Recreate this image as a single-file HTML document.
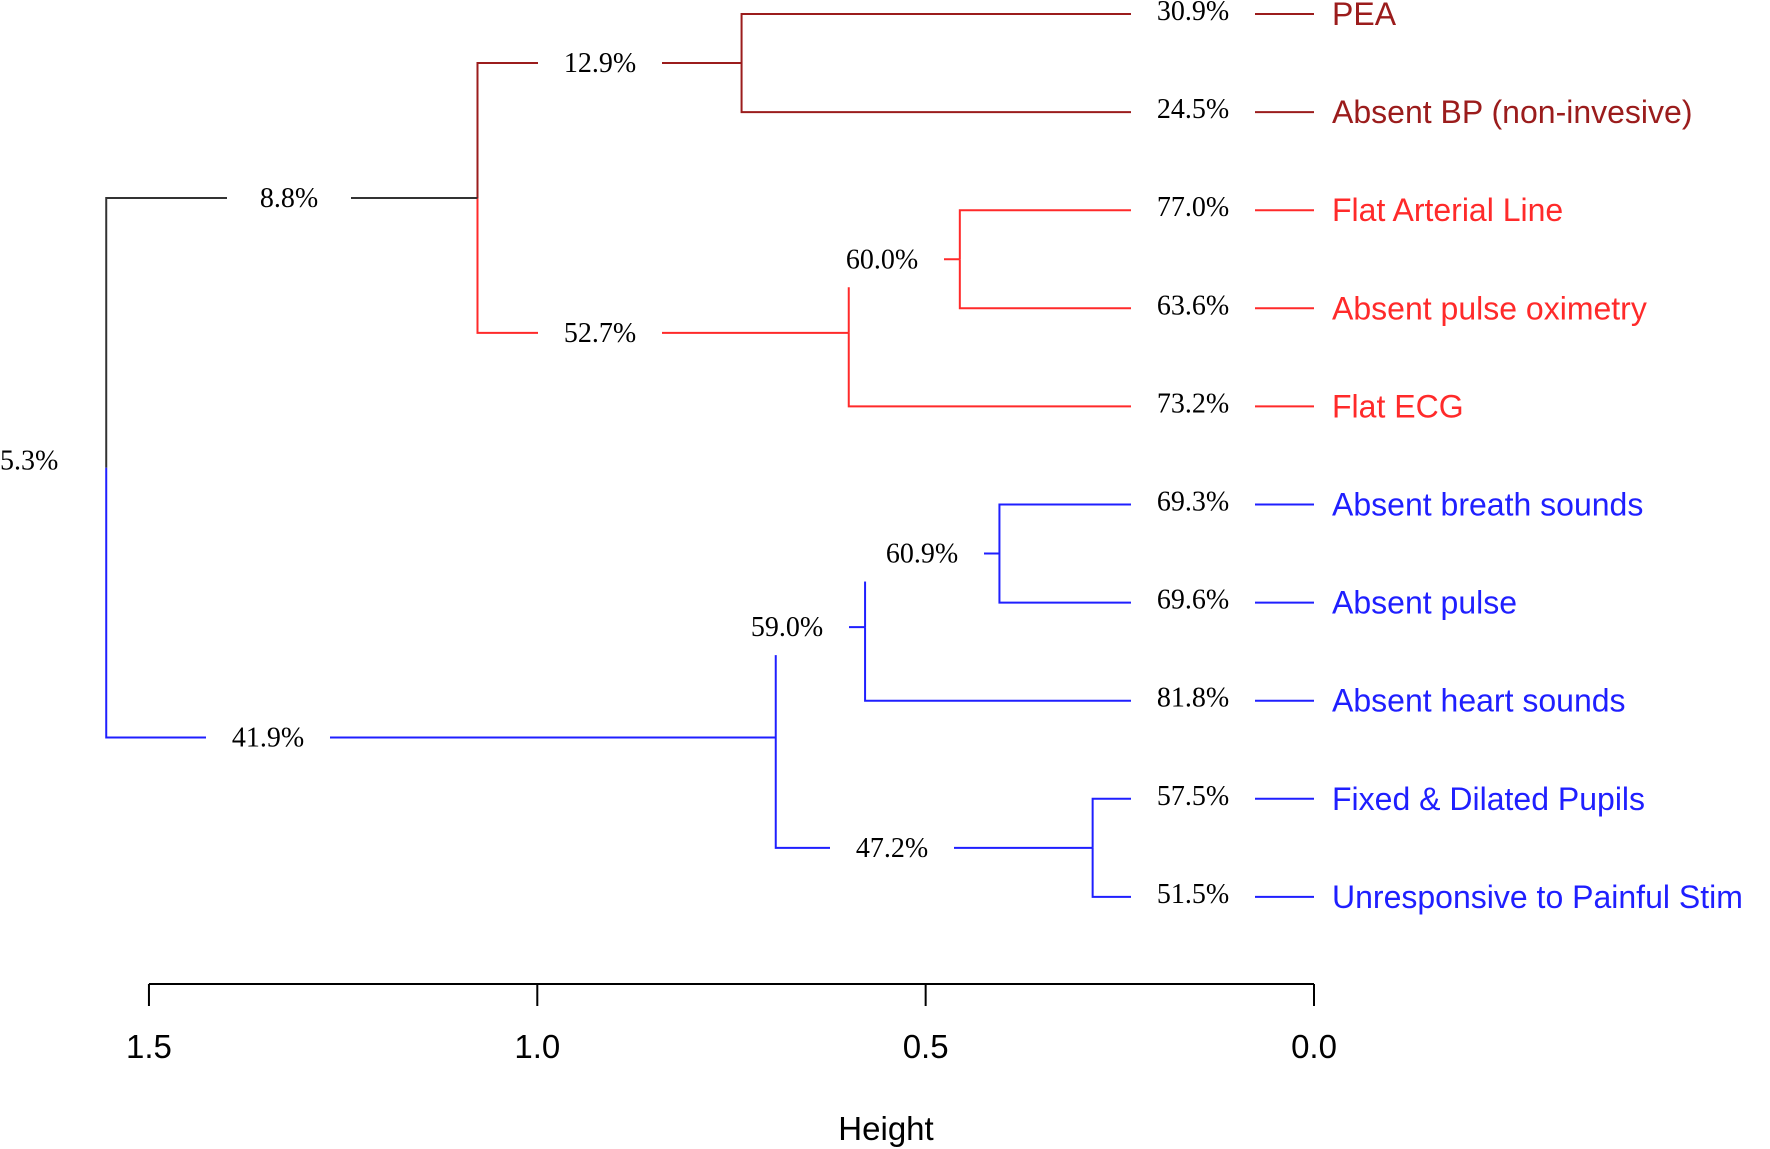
<!DOCTYPE html>
<html><head><meta charset="utf-8"><style>
html,body{margin:0;padding:0;background:#fff;}
svg{display:block;}
</style></head><body>
<svg id="chart" width="1770" height="1149" viewBox="0 0 1770 1149" xmlns="http://www.w3.org/2000/svg"></svg>
<script>
// ---- data ----
const leafNames = ["PEA","Absent BP (non-invesive)","Flat Arterial Line","Absent pulse oximetry","Flat ECG","Absent breath sounds","Absent pulse","Absent heart sounds","Fixed & Dilated Pupils","Unresponsive to Painful Stim"];
const leafPct = ["30.9%","24.5%","77.0%","63.6%","73.2%","69.3%","69.6%","81.8%","57.5%","51.5%"];
const leafColors = ["#9b1c1c","#9b1c1c","#ff2a2a","#ff2a2a","#ff2a2a","#1f1fff","#1f1fff","#1f1fff","#1f1fff","#1f1fff"];
const mergeLeft  = [-1,-3, 2,-6, 4,-9, 1, 5, 7];
const mergeRight = [-2,-4,-5,-7,-8,-10,3, 6, 8];
const mergeHeights = [0.737,0.456,0.599,0.405,0.578,0.285,1.077,0.693,1.555];
const mergePct = ["12.9%","60.0%","52.7%","60.9%","59.0%","47.2%","8.8%","41.9%","5.3%"];
const mergeColors = ["#9b1c1c","#ff2a2a","#ff2a2a","#1f1fff","#1f1fff","#1f1fff","#333333","#1f1fff","#333333"];
const mergeLabelX = [600,882,600,922,787,892,289,268,0];
const axisTicks = [1.5,1.0,0.5,0.0];
const axisTickLabels = ["1.5","1.0","0.5","0.0"];

// ---- scales ----
const x = h => 1314 - h*776.7;
const yLeaf = i => 14 + i*98.1;
const svg = document.getElementById('chart');
const NS = "http://www.w3.org/2000/svg";
function mk(tag, attrs){const e=document.createElementNS(NS,tag);for(const k in attrs)e.setAttribute(k,attrs[k]);return e;}

const nodeY = [];
function yOf(c){return c<0 ? yLeaf(-c-1) : nodeY[c-1];}
function hOf(c){return c<0 ? 0 : mergeHeights[c-1];}
function colOf(c){return c<0 ? leafColors[-c-1] : mergeColors[c-1];}
mergeHeights.forEach((h,i)=>{nodeY[i]=(yOf(mergeLeft[i])+yOf(mergeRight[i]))/2;});

const lines = mk('g',{});


svg.appendChild(lines);
const labels = mk('g',{});


svg.appendChild(labels);

function edgeLabel(txt,cx,cy,anchor){
  const g=mk('g',{});
  
  
  if(anchor==='start'){g.appendChild(mk('rect',{x:0,y:cy-28,width:70,height:56,fill:'#fff'}));}
  else g.appendChild(mk('rect',{x:cx-62,y:cy-28,width:124,height:56,fill:'#fff'}));
  const t=mk('text',{x:anchor==='start'?0:cx,y:cy+9,'text-anchor':anchor||'middle','font-family':'"Liberation Serif",serif','font-size':28,fill:'#000'});
  t.textContent=txt;g.appendChild(t);labels.appendChild(g);
}

mergeHeights.forEach((h,i)=>{
  const px=x(h), py=nodeY[i];
  [mergeLeft[i],mergeRight[i]].forEach(c=>{
    const cy=yOf(c), cx=x(hOf(c));
    const p=mk('path',{d:`M${px},${py}V${cy}H${cx}`,stroke:colOf(c),'stroke-width':2,fill:'none'});
    
    
    lines.appendChild(p);
  });
});
const ri=mergeHeights.length-1;

mergeHeights.forEach((h,i)=>{
  if(i===ri){edgeLabel(mergePct[i],0,nodeY[i]-7,'start');return;}
  edgeLabel(mergePct[i],mergeLabelX[i],nodeY[i],'middle');
});
leafNames.forEach((n,i)=>{
  edgeLabel(leafPct[i],1193,yLeaf(i)-3,'middle');
  const t=mk('text',{x:1332,y:yLeaf(i)+11,'font-family':'"Liberation Sans",sans-serif','font-size':32,fill:leafColors[i]});
  t.textContent=n;
  
  
  svg.appendChild(t);
});

// axis
const ax=mk('g',{});


svg.appendChild(ax);
ax.appendChild(mk('line',{x1:x(axisTicks[0]),x2:x(axisTicks[axisTicks.length-1]),y1:984,y2:984,stroke:'#000','stroke-width':2}));
axisTicks.forEach((v,i)=>{
  ax.appendChild(mk('line',{x1:x(v),x2:x(v),y1:984,y2:1006,stroke:'#000','stroke-width':2}));
  const t=mk('text',{x:x(v),y:1058,'text-anchor':'middle','font-family':'"Liberation Sans",sans-serif','font-size':33,fill:'#000'});
  t.textContent=axisTickLabels[i];
  
  
  ax.appendChild(t);
});
const title=mk('text',{x:886,y:1140,'text-anchor':'middle','font-family':'"Liberation Sans",sans-serif','font-size':33,fill:'#000'});
title.textContent='Height';


svg.appendChild(title);
</script>
</body></html>
